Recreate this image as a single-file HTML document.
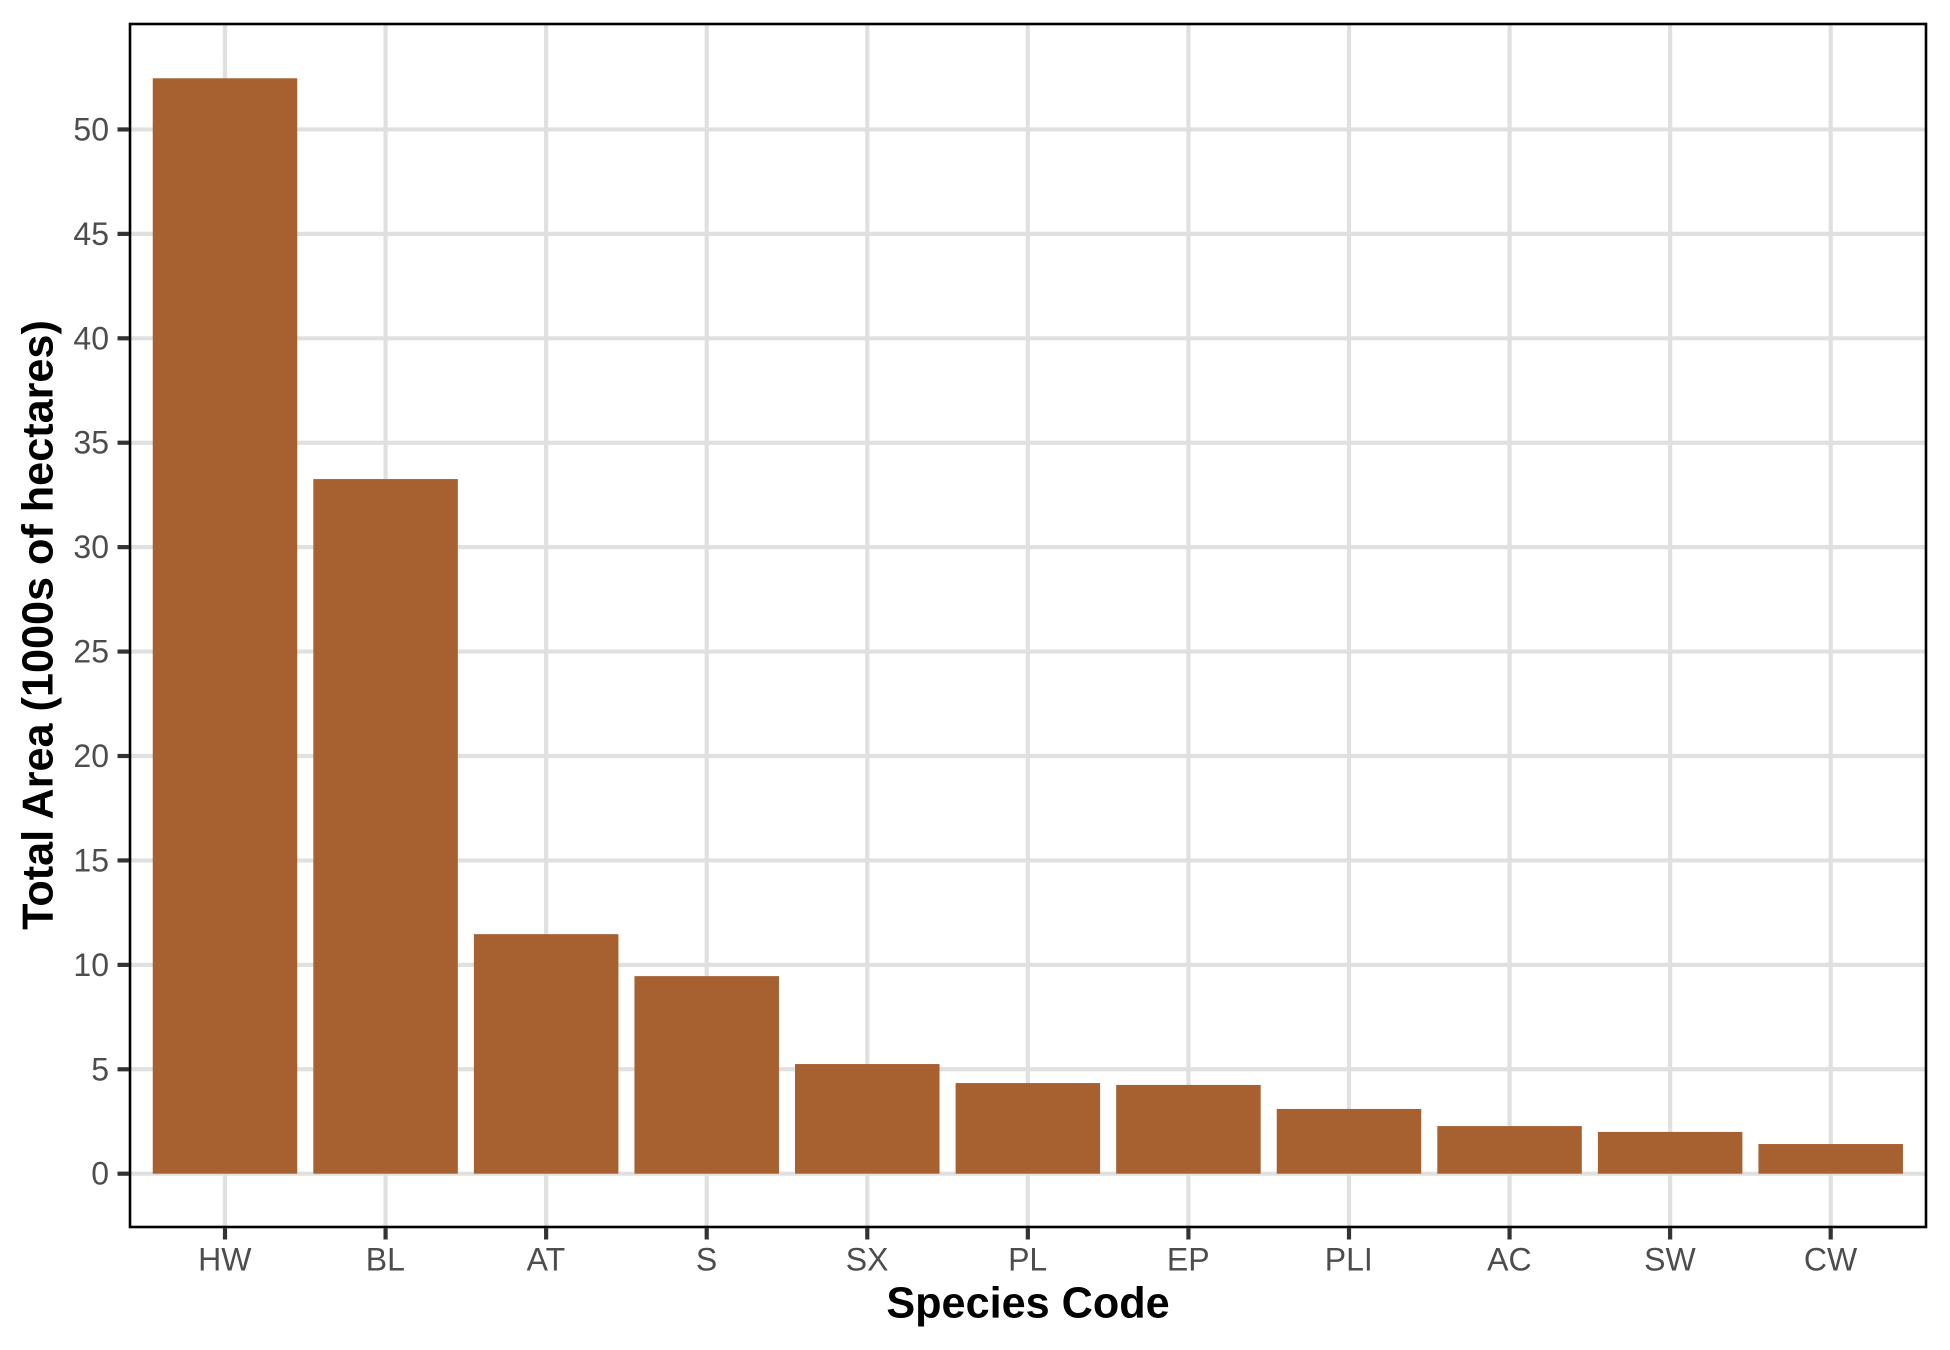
<!DOCTYPE html>
<html>
<head>
<meta charset="utf-8">
<title>Total Area by Species Code</title>
<style>
html,body{margin:0;padding:0;background:#fff;}
svg{display:block;}
text{font-family:"Liberation Sans",sans-serif;}
.tick-label{font-size:32px;fill:#4d4d4d;}
.axis-title{font-size:43.2px;font-weight:bold;fill:#000;}
</style>
</head>
<body>
<svg id="chart" xmlns="http://www.w3.org/2000/svg" width="1950" height="1350" viewBox="0 0 1950 1350">
  <rect x="0" y="0" width="1950" height="1350" fill="#ffffff"/>
  <g id="grid"></g>
  <g id="bars"></g>
  <rect x="130" y="24" width="1796" height="1203" fill="none" stroke="#000000" stroke-width="2.6"/>
  <g id="ticks"></g>
  <g id="tick-labels"></g>
  <text class="axis-title" x="1028" y="1317.5" text-anchor="middle">Species Code</text>
  <text class="axis-title" transform="translate(52.5,625) rotate(-90)" text-anchor="middle">Total Area (1000s of hectares)</text>
</svg>
<script>
const categories = ["HW","BL","AT","S","SX","PL","EP","PLI","AC","SW","CW"];
const areaValues = [52.45,33.26,11.47,9.46,5.25,4.34,4.25,3.10,2.28,2.00,1.42];
const yTickValues = [0,5,10,15,20,25,30,35,40,45,50];

const SVG_NS = "http://www.w3.org/2000/svg";
const panel = {left:130, right:1926, top:24, bottom:1227};
const xStep = 160.57, xFirst = 225, barWidth = 144.5;
const yZero = 1173.7, yUnit = 20.885;

function xScale(i){ return xFirst + i * xStep; }
function yScale(v){ return yZero - v * yUnit; }

function make(tag, attrs){
  const el = document.createElementNS(SVG_NS, tag);
  for (const k in attrs) el.setAttribute(k, attrs[k]);
  return el;
}

const gridG = document.getElementById("grid");
const barsG = document.getElementById("bars");
const ticksG = document.getElementById("ticks");
const labelsG = document.getElementById("tick-labels");

yTickValues.forEach(function(v){
  const y = yScale(v);
  const line = make("line", {x1:panel.left, x2:panel.right, y1:y, y2:y, stroke:"#e0e0e0", "stroke-width":4.2});
  
  
  gridG.appendChild(line);

  const tick = make("line", {x1:117.5, x2:panel.left - 1, y1:y, y2:y, stroke:"#333333", "stroke-width":4.2});
  
  
  ticksG.appendChild(tick);

  const label = make("text", {x:109, y:y + 11, "text-anchor":"end", "class":"tick-label"});
  
  
  label.textContent = String(v);
  labelsG.appendChild(label);
});

categories.forEach(function(c, i){
  const x = xScale(i);
  const line = make("line", {x1:x, x2:x, y1:panel.top, y2:panel.bottom, stroke:"#e0e0e0", "stroke-width":4.2});
  
  
  gridG.appendChild(line);

  const top = yScale(areaValues[i]);
  const bar = make("rect", {x:x - barWidth / 2, y:top, width:barWidth, height:yZero - top, fill:"#a76030"});
  
  
  barsG.appendChild(bar);

  const tick = make("line", {x1:x, x2:x, y1:panel.bottom + 1, y2:1239.5, stroke:"#333333", "stroke-width":4.2});
  
  
  ticksG.appendChild(tick);

  const label = make("text", {x:x - 0.2, y:1270.5, "text-anchor":"middle", "class":"tick-label"});
  
  
  label.textContent = c;
  labelsG.appendChild(label);
});
</script>
</body>
</html>
